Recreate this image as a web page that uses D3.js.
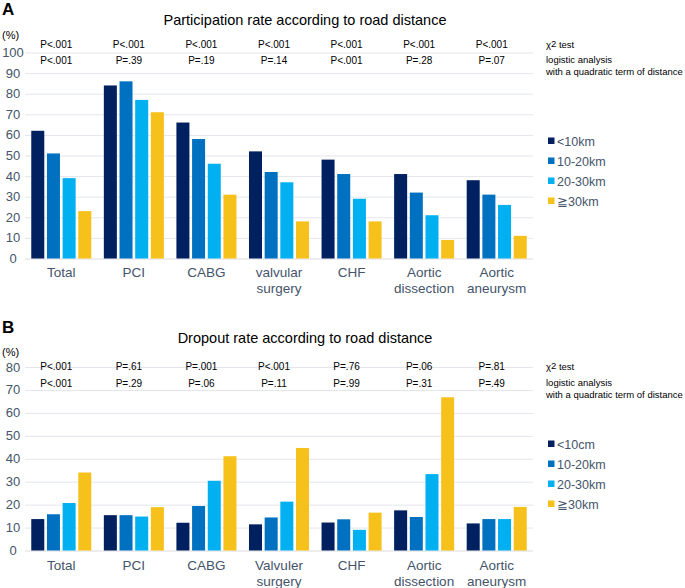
<!DOCTYPE html>
<html><head><meta charset="utf-8">
<script src="https://cdn.jsdelivr.net/npm/d3@7"></script>
<style>
body{margin:0;background:#fff;}
text{font-family:Arial,"Liberation Sans",sans-serif;}
</style></head>
<body>
<svg id="chart" width="685" height="588"></svg>
<script>
const categoriesA = ["Total", "PCI", "CABG", "valvular\nsurgery", "CHF", "Aortic\ndissection", "Aortic\naneurysm"];
const categoriesB = ["Total", "PCI", "CABG", "Valvuler\nsurgery", "CHF", "Aortic\ndissection", "Aortic\naneurysm"];
const seriesA = ["<10km", "10-20km", "20-30km", "≧30km"];
const seriesB = ["<10cm", "10-20km", "20-30km", "≧30km"];
const colors = ["#002060", "#0070C0", "#00B0F0", "#F5C11A"];

// Participation rate (%) per category, per distance group
const partLt10   = [62, 84, 66, 52, 48, 41, 38];
const part10_20  = [51, 86, 58, 42, 41, 32, 31];
const part20_30  = [39, 77, 46, 37, 29, 21, 26];
const partGe30   = [23, 71, 31, 18, 18, 9, 11];

// Dropout rate (%)
const dropLt10   = [13.7, 15.4, 12.1, 11.4, 12.2, 17.5, 11.8];
const drop10_20  = [15.8, 15.4, 19.4, 14.4, 13.6, 14.6, 13.7];
const drop20_30  = [20.7, 14.8, 30.4, 21.3, 9.0, 33.3, 13.7];
const dropGe30   = [34.0, 18.9, 41.1, 44.7, 16.5, 66.8, 19.0];

const pChiA   = ["P<.001", "P<.001", "P<.001", "P<.001", "P<.001", "P<.001", "P<.001"];
const pLogA   = ["P<.001", "P=.39", "P=.19", "P=.14", "P<.001", "P=.28", "P=.07"];
const pChiB   = ["P<.001", "P=.61", "P=.001", "P<.001", "P=.76", "P=.06", "P=.81"];
const pLogB   = ["P<.001", "P=.29", "P=.06", "P=.11", "P=.99", "P=.31", "P=.49"];

const ticksA = [0, 10, 20, 30, 40, 50, 60, 70, 80, 90, 100];
const ticksB = [0, 10, 20, 30, 40, 50, 60, 70, 80];

const svg = d3.select("#chart");
const axisColor = "#44546A";

function panel(o) {
  const g = svg.append("g");
  const x0 = d3.scaleBand().domain(o.categories).range([25, 533]);
  const x1 = d3.scaleBand().domain(o.series).range([0, x0.bandwidth()]).paddingInner(0.17).paddingOuter(0.4);
  const y = d3.scaleLinear().domain([0, o.max]).range([o.y0, o.y1]);

  g.append("text").attr("x", 2).attr("y", o.letterY).text(o.letter)
    .attr("font-size", 17).attr("font-weight", "bold").attr("fill", "#000");
  g.append("text").attr("x", 305).attr("y", o.titleY).attr("text-anchor", "middle")
    .attr("font-size", 14.5).attr("fill", "#000").text(o.title);
  g.append("text").attr("x", 2).attr("y", o.pctY).attr("font-size", 11).attr("fill", "#000").text("(%)");

  const grid = d3.axisLeft(y).tickValues(o.ticks).tickSize(-(533 - 25)).tickFormat("");
  const gg = g.append("g").attr("transform", "translate(25,0)").call(grid);
  gg.select(".domain").remove();
  gg.selectAll("line").attr("stroke", "#E3E6EC").attr("stroke-width", 1);
  gg.selectAll(".tick").filter(d => d === 0).select("line").attr("stroke", "#DCDCE0");

  g.selectAll(".ylab").data(o.ticks).join("text")
    .attr("x", 13).attr("y", d => y(d) + 4.5).attr("text-anchor", "middle")
    .attr("font-size", 13).attr("fill", axisColor).text(d => d);

  const groups = g.selectAll(".grp").data(o.categories).join("g")
    .attr("transform", d => `translate(${x0(d)},0)`);
  groups.selectAll("rect").data((d, i) => o.series.map((s, j) => ({s, v: o.values[j][i], c: colors[j]})))
    .join("rect")
    .attr("x", d => x1(d.s)).attr("width", x1.bandwidth())
    .attr("y", d => y(d.v)).attr("height", d => y(0) - y(d.v))
    .attr("fill", d => d.c);

  o.categories.forEach(c => {
    const lines = c.split("\n");
    const t = g.append("text").attr("text-anchor", "middle").attr("font-size", 13.5).attr("fill", axisColor)
      .attr("x", x0(c) + x0.bandwidth() / 2).attr("y", o.catY);
    lines.forEach((l, k) => t.append("tspan").attr("x", x0(c) + x0.bandwidth() / 2).attr("dy", k ? 15.5 : 0).text(l));
  });

  o.categories.forEach((c, i) => {
    const cx = x0(c) + x0.bandwidth() / 2 - 5;
    g.append("text").attr("x", cx).attr("y", o.p1Y).attr("text-anchor", "middle").attr("font-size", 10).attr("fill", "#000").text(o.p1[i]);
    g.append("text").attr("x", cx).attr("y", o.p2Y).attr("text-anchor", "middle").attr("font-size", 10).attr("fill", "#000").text(o.p2[i]);
  });

  const chi = g.append("text").attr("x", 546).attr("y", o.p1Y).attr("font-size", 9.5).attr("fill", "#000");
  chi.append("tspan").text("χ");
  chi.append("tspan").attr("dy", -1).text("2");
  chi.append("tspan").attr("dy", 1).text(" test");
  g.append("text").attr("x", 546).attr("y", o.p2Y - 1).attr("font-size", 9.5).attr("fill", "#000").text("logistic analysis");
  g.append("text").attr("x", 546).attr("y", o.p2Y + 10.5).attr("font-size", 9.5).attr("fill", "#000").text("with a quadratic term of distance");

  o.series.forEach((s, j) => {
    const ly = o.legY + j * 20;
    g.append("rect").attr("x", 548).attr("y", ly - 8.5).attr("width", 6.5).attr("height", 6.5).attr("fill", colors[j]);
    g.append("text").attr("x", 557).attr("y", ly).attr("font-size", 12.5).attr("fill", axisColor).text(s);
  });
}

panel({letter: "A", letterY: 15, title: "Participation rate according to road distance", titleY: 25,
  pctY: 39, categories: categoriesA, series: seriesA, max: 100, y0: 258.5, y1: 52.5, ticks: ticksA,
  values: [partLt10, part10_20, part20_30, partGe30], catY: 277, p1Y: 48, p2Y: 64, p1: pChiA, p2: pLogA, legY: 146});

panel({letter: "B", letterY: 333, title: "Dropout rate according to road distance", titleY: 343,
  pctY: 356, categories: categoriesB, series: seriesB, max: 80, y0: 550.5, y1: 367, ticks: ticksB,
  values: [dropLt10, drop10_20, drop20_30, dropGe30], catY: 570, p1Y: 370, p2Y: 387, p1: pChiB, p2: pLogB, legY: 449});
</script>
</body></html>
